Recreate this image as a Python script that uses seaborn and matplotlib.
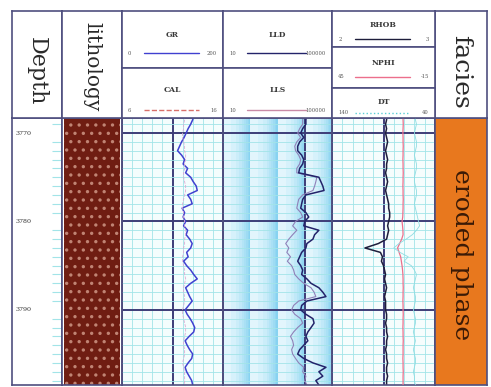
import numpy as np
import pandas as pd
import matplotlib
matplotlib.use('Agg')
import matplotlib.pyplot as plt
import seaborn as sns
from matplotlib.ticker import MultipleLocator, LogLocator

# depth samples (m), one every 0.5 m
depth = np.arange(3768.0, 3798.51, 0.5)

gr = [142, 140, 136, 131, 127, 123, 118, 114, 110, 118,
      124, 121, 130, 126, 136, 141, 147, 149, 130, 136,
      139, 119, 124, 121, 126, 122, 130, 127, 134, 139,
      136, 128, 131, 122, 128, 136, 142, 149, 136, 126,
      130, 134, 139, 132, 125, 129, 135, 140, 144, 142,
      133, 125, 129, 134, 140, 138, 131, 125, 128, 133,
      138, 140]
cal = [12.2, 12.2, 12.1, 12.1, 12.0, 12.0, 12.1, 12.2, 12.2, 12.3,
       12.3, 12.2, 12.2, 12.1, 12.1, 12.2, 12.3, 12.3, 12.2, 12.1,
       12.0, 12.0, 12.1, 12.1, 12.2, 12.2, 12.3, 12.3, 12.2, 12.2,
       12.1, 12.1, 12.0, 12.0, 12.1, 12.2, 12.2, 12.3, 12.2, 12.1,
       12.1, 12.2, 12.2, 12.1, 12.0, 12.0, 12.1, 12.2, 12.3, 12.3,
       12.2, 12.1, 12.1, 12.2, 12.2, 12.1, 12.0, 12.1, 12.2, 12.2,
       12.2, 12.2]
lld = [12000, 11000, 11000, 8400, 7100, 9200, 6500, 5500, 5500, 7700,
       9200, 8400, 6500, 6000, 33000, 39000, 46000, 51000, 11000, 8400,
       7700, 7100, 11000, 14000, 10000, 9200, 33000, 23000, 20000, 12000,
       11000, 7700, 6500, 5500, 7100, 8400, 7700, 12000, 17000, 33000,
       46000, 60000, 12000, 7700, 7100, 11000, 20000, 22000, 17000, 13000,
       11000, 13000, 9200, 6500, 5500, 9200, 20000, 60000, 33000, 46000,
       25500, 33000]
lls = [9200, 8400, 8400, 6500, 5500, 7100, 5100, 4300, 4600, 6000,
       7100, 6500, 5100, 5100, 27800, 25500, 23000, 20000, 8400, 6000,
       5500, 5100, 7100, 8400, 4600, 3600, 5100, 3600, 2600, 2000,
       2600, 2200, 3000, 2300, 3300, 3900, 4300, 6000, 9200, 17000,
       22000, 25500, 6000, 3900, 3300, 4300, 7100, 8400, 5500, 3900,
       3000, 3600, 3900, 3300, 3600, 4600, 6000, 9200, 8400, 11000,
       10000, 12000]
rhob = [2.53, 2.53, 2.52, 2.53, 2.52, 2.53, 2.54, 2.53, 2.52, 2.53,
        2.54, 2.53, 2.53, 2.52, 2.53, 2.54, 2.53, 2.52, 2.53, 2.54,
        2.55, 2.55, 2.56, 2.56, 2.55, 2.54, 2.55, 2.54, 2.53, 2.45,
        2.32, 2.47, 2.49, 2.48, 2.50, 2.51, 2.52, 2.51, 2.52, 2.53,
        2.52, 2.51, 2.52, 2.52, 2.52, 2.53, 2.53, 2.52, 2.53, 2.53,
        2.54, 2.53, 2.53, 2.52, 2.53, 2.53, 2.54, 2.53, 2.53, 2.54,
        2.53, 2.53]
nphi = [3.6, 3.6, 3.5, 3.6, 3.7, 3.6, 3.6, 3.5, 3.6, 3.6,
        3.7, 3.6, 3.6, 3.5, 3.6, 3.6, 3.7, 3.6, 3.6, 3.5,
        3.6, 3.6, 3.7, 3.8, 4.2, 3.9, 3.7, 3.6, 4.4, 5.6,
        6.8, 5.9, 5.0, 4.6, 4.2, 3.9, 3.7, 3.6, 3.6, 3.5,
        3.6, 3.6, 3.7, 3.6, 3.6, 3.5, 3.6, 3.6, 3.7, 3.6,
        3.6, 3.5, 3.6, 3.6, 3.6, 3.7, 3.6, 3.6, 3.5, 3.6,
        3.6, 3.6]
dt = [59, 59, 58, 59, 60, 59, 58, 58, 59, 60,
      59, 58, 58, 59, 60, 60, 59, 58, 58, 59,
      60, 59, 58, 57, 56, 55, 58, 62, 68, 75,
      80, 74, 66, 70, 63, 60, 58, 59, 60, 61,
      60, 59, 59, 60, 61, 60, 59, 59, 60, 61,
      60, 59, 60, 61, 60, 59, 59, 60, 61, 60,
      60, 59]

depth_labels = [3770, 3780, 3790]
top_depth, base_depth = 3768.3, 3798.5
facies_name = 'eroded phase'

logs = pd.DataFrame({'DEPTH': depth, 'GR': gr, 'CAL': cal, 'LLD': lld, 'LLS': lls,
                     'RHOB': rhob, 'NPHI': nphi, 'DT': dt})

sns.set_style('white')
plt.rcParams['font.family'] = ['DejaVu Serif']
plt.rcParams['hatch.linewidth'] = 1.2

FRAME = '#4f4f7f'
MAJ = '#3d3d78'
MIN = '#a2e4e8'

W, H = 491, 387
fig = plt.figure(figsize=(W / 100, H / 100), dpi=100)


def box(x0, y0, x1, y1):
    return [x0 / W, 1 - y1 / H, (x1 - x0) / W, (y1 - y0) / H]


def frame(ax):
    for s in ax.spines.values():
        s.set_visible(True)
        s.set_color(FRAME)
        s.set_linewidth(1.2)


def track(ax):
    ax.set_ylim(base_depth, top_depth)
    ax.yaxis.set_major_locator(MultipleLocator(10))
    ax.yaxis.set_minor_locator(MultipleLocator(1))
    ax.grid(which='minor', color=MIN, lw=0.6)
    ax.grid(which='major', color=MAJ, lw=1.4)
    ax.tick_params(which='both', length=0, labelbottom=False, labelleft=False)
    ax.set_xlabel('')
    ax.set_ylabel('')
    ax.set_axisbelow(True)
    frame(ax)


def twin(ax, lo, hi):
    t = ax.twiny()
    t.set_xlim(lo, hi)
    t.axis('off')
    return t


TOP, MID, BOT = 11, 118, 385
XD, XL, XG, XR, XN, XF, XE = 12, 62, 122, 223, 332, 435, 487

# ---- depth column
ax_d = fig.add_axes(box(XD, MID, XL, BOT))
ax_d.set_ylim(base_depth, top_depth)
ax_d.set_xlim(0, 1)
ax_d.yaxis.set_major_locator(MultipleLocator(10))
ax_d.yaxis.set_minor_locator(MultipleLocator(1))
ax_d.yaxis.set_ticks_position('right')
ax_d.tick_params(axis='y', which='major', length=0, labelright=False)
ax_d.tick_params(axis='y', which='minor', direction='in', length=7, width=0.8, color=MIN)
ax_d.set_xticks([])
frame(ax_d)
for d in depth_labels:
    ax_d.text(0.07, d, f'{d}', transform=ax_d.get_yaxis_transform(),
              ha='left', va='center', fontsize=4.6, color='#333333')

# ---- lithology column
ax_l = fig.add_axes(box(XL, MID, XG, BOT))
ax_l.fill_betweenx([top_depth, base_depth], 0.04, 0.96, facecolor='#6f1d12',
                   edgecolor='#c08474', hatch='..', lw=0)
ax_l.set_xlim(0, 1)
ax_l.set_ylim(base_depth, top_depth)
ax_l.set_xticks([])
ax_l.set_yticks([])
frame(ax_l)

# ---- GR / CAL
ax_g = fig.add_axes(box(XG, MID, XR, BOT))
ax_g.set_facecolor('#f4fdfd')
sns.lineplot(data=logs, x='GR', y='DEPTH', orient='y', estimator=None,
             color='#4040d0', lw=1.1, ax=ax_g)
ax_g.set_xlim(0, 200)
ax_g.xaxis.set_major_locator(MultipleLocator(100))
ax_g.xaxis.set_minor_locator(MultipleLocator(20))
track(ax_g)
ax_c = twin(ax_g, 6, 16)
sns.lineplot(data=logs, x='CAL', y='DEPTH', orient='y', estimator=None,
             color='#dcaad4', lw=0.6, ls='--', ax=ax_c)
ax_c.set_ylim(base_depth, top_depth)

# ---- LLD / LLS (log scale, blue shading thickens toward each decade line)
ax_r = fig.add_axes(box(XR, MID, XN, BOT))
ax_r.set_xscale('log')
ax_r.set_facecolor('#eefafe')
for n in range(1, 5):
    for k in range(1, 10):
        ax_r.axvspan(k * 10 ** n, (k + 1) * 10 ** n, color='#30b2e6',
                     alpha=0.06 * k, lw=0, zorder=0.2)
sns.lineplot(data=logs, x='LLS', y='DEPTH', orient='y', estimator=None,
             color='#8f80b8', lw=0.8, ax=ax_r)
sns.lineplot(data=logs, x='LLD', y='DEPTH', orient='y', estimator=None,
             color='#23236a', lw=1.1, ax=ax_r)
ax_r.set_xlim(10, 100000)
ax_r.xaxis.set_major_locator(LogLocator(base=10))
ax_r.xaxis.set_minor_locator(LogLocator(base=10, subs=np.arange(2, 10)))
track(ax_r)

# ---- RHOB / NPHI / DT
ax_n = fig.add_axes(box(XN, MID, XF, BOT))
ax_n.set_facecolor('#f6fdfd')
sns.lineplot(data=logs, x='RHOB', y='DEPTH', orient='y', estimator=None,
             color='#1e1e3c', lw=1.1, ax=ax_n)
ax_n.set_xlim(2, 3)
ax_n.xaxis.set_major_locator(MultipleLocator(0.5))
ax_n.xaxis.set_minor_locator(MultipleLocator(0.1))
track(ax_n)
ax_p = twin(ax_n, 45, -15)
sns.lineplot(data=logs, x='NPHI', y='DEPTH', orient='y', estimator=None,
             color='#ec6f8c', lw=0.9, ax=ax_p)
ax_p.set_ylim(base_depth, top_depth)
ax_t = twin(ax_n, 140, 40)
sns.lineplot(data=logs, x='DT', y='DEPTH', orient='y', estimator=None,
             color='#8edde2', lw=0.6, ax=ax_t)
ax_t.set_ylim(base_depth, top_depth)

# ---- facies column
ax_f = fig.add_axes(box(XF, MID, XE, BOT))
ax_f.fill_betweenx([top_depth, base_depth], 0, 1, color='#e8781e', lw=0)
ax_f.set_xlim(0, 1)
ax_f.set_ylim(base_depth, top_depth)
ax_f.set_xticks([])
ax_f.set_yticks([])
frame(ax_f)
ax_f.text(0.5, 0.49, facies_name, rotation=-90, ha='center', va='center',
          fontsize=18, color='#3a1a06', transform=ax_f.transAxes)


# ---- header
def cell(x0, y0, x1, y1):
    h = fig.add_axes(box(x0, y0, x1, y1))
    h.set_xlim(0, 1)
    h.set_ylim(0, 1)
    h.set_xticks([])
    h.set_yticks([])
    frame(h)
    return h


def curve_cell(x0, y0, x1, y1, name, lo, hi, color, ls, ty, ly):
    h = cell(x0, y0, x1, y1)
    h.text(0.5, ty, name, ha='center', va='center', fontsize=5.5,
           fontweight='bold', color='#3a3a3a')
    h.plot([0.22, 0.76], [ly, ly], color=color, ls=ls, lw=1.0)
    h.text(0.06, ly, lo, ha='left', va='center', fontsize=3.8, color='#555555')
    h.text(0.94, ly, hi, ha='right', va='center', fontsize=3.8, color='#555555')


h = cell(XD, TOP, XL, MID)
h.text(0.5, 0.44, 'Depth', rotation=-90, ha='center', va='center', fontsize=16, color='#2a2a2a')
h = cell(XL, TOP, XG, MID)
h.text(0.5, 0.48, 'lithology', rotation=-90, ha='center', va='center', fontsize=14.5, color='#2a2a2a')
h = cell(XF, TOP, XE, MID)
h.text(0.5, 0.43, 'facies', rotation=-90, ha='center', va='center', fontsize=18, color='#2a2a2a')

curve_cell(XG, TOP, XR, 68, 'GR', '0', '200', '#4040d0', '-', 0.58, 0.26)
curve_cell(XG, 68, XR, MID, 'CAL', '6', '16', '#d9706a', '--', 0.56, 0.16)
curve_cell(XR, TOP, XN, 68, 'LLD', '10', '100000', '#23236a', '-', 0.58, 0.26)
curve_cell(XR, 68, XN, MID, 'LLS', '10', '100000', '#c98aa6', '-', 0.56, 0.16)
curve_cell(XN, TOP, XF, 47, 'RHOB', '2', '3', '#1e1e3c', '-', 0.61, 0.22)
curve_cell(XN, 47, XF, 88, 'NPHI', '45', '-15', '#ec6f8c', '-', 0.61, 0.27)
curve_cell(XN, 88, XF, MID, 'DT', '140', '40', '#5ccfd6', ':', 0.53, 0.17)

plt.savefig('out.png', dpi=100)
